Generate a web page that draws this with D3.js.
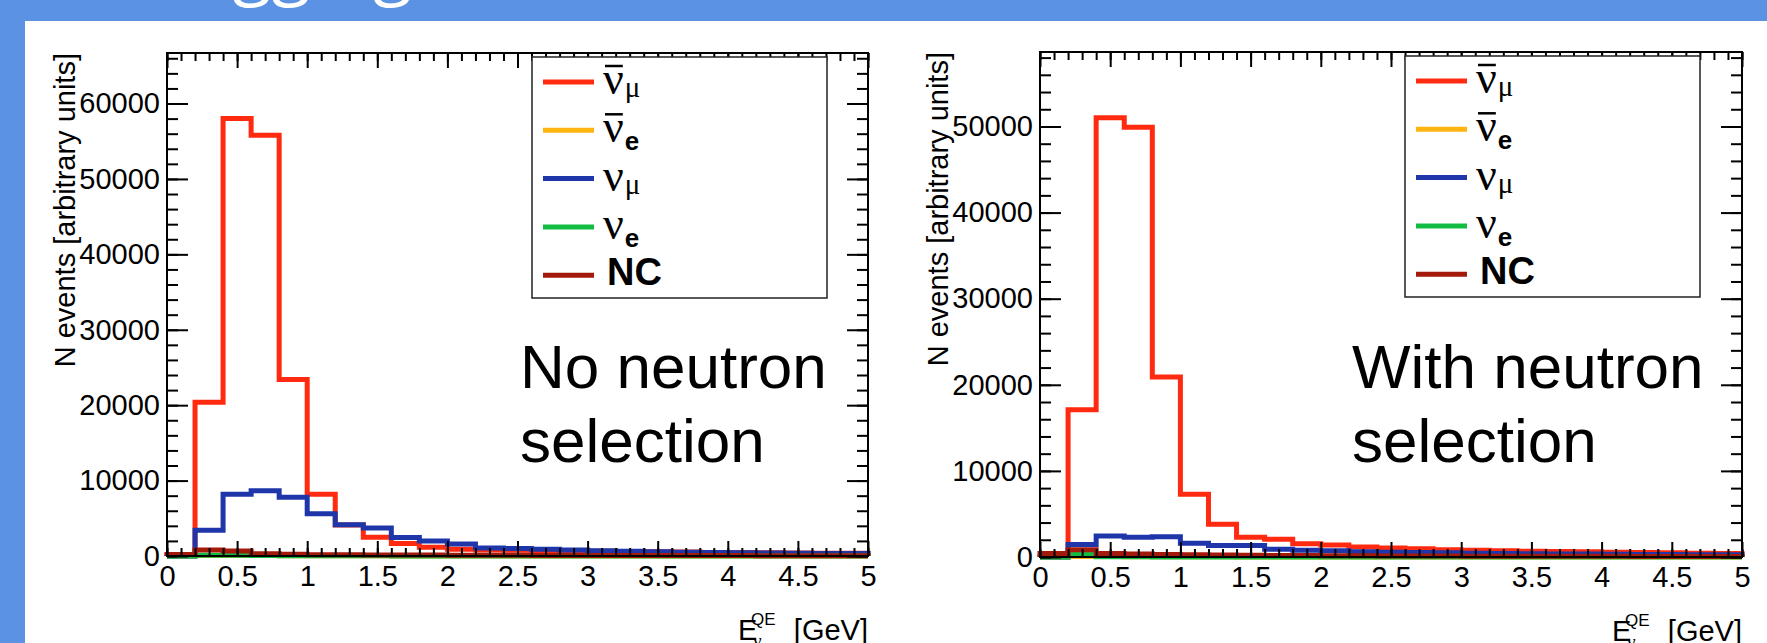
<!DOCTYPE html>
<html>
<head>
<meta charset="utf-8">
<script src="https://cdn.jsdelivr.net/npm/d3@7"></script>
<style>
  body { margin: 0; background: #fff; }
  svg text { font-family: "Liberation Sans", Arial, sans-serif; }
</style>
</head>
<body>
<svg id="chart" width="1767" height="643"></svg>
<script>
"use strict";

// bin edges in GeV
var binEdges = [0, 0.2, 0.4, 0.6, 0.8, 1.0, 1.2, 1.4, 1.6, 1.8, 2.0, 2.2, 2.4,
  2.6, 2.8, 3.0, 3.2, 3.4, 3.6, 3.8, 4.0, 4.2, 4.4, 4.6, 4.8, 5.0];

// no neutron selection
var numubarNoSel = [100, 20400, 58000, 55800, 23400, 8200, 4100, 2500, 1650, 1150, 900, 800,
  750, 700, 650, 620, 600, 580, 520, 480, 450, 420, 400, 380, 360];
var nuebarNoSel = [0, 60, 70, 50, 40, 30, 25, 20, 15, 10, 10, 10, 5, 5, 5, 5, 5, 5, 5, 5, 5, 5, 5, 5, 5];
var numuNoSel = [0, 3400, 8200, 8650, 7800, 5600, 4150, 3700, 2450, 2000, 1600, 1050,
  1000, 880, 800, 700, 620, 560, 500, 450, 420, 390, 360, 340, 320];
var nueNoSel = [0, 100, 90, 60, 40, 30, 20, 20, 10, 10, 10, 5, 5, 5, 5, 5, 5, 5, 5, 5, 5, 5, 5, 5, 5];
var ncNoSel = [200, 800, 650, 300, 220, 180, 160, 140, 130, 120, 110, 100, 90, 80, 75, 70,
  65, 60, 55, 50, 50, 45, 40, 40, 35];

// with neutron selection
var numubarSel = [50, 17100, 51000, 49900, 20900, 7300, 3800, 2300, 2050, 1550, 1400, 1150,
  1050, 950, 850, 780, 720, 680, 640, 600, 560, 520, 480, 450, 420];
var nuebarSel = [0, 50, 60, 40, 30, 20, 15, 10, 10, 5, 5, 5, 5, 5, 5, 5, 5, 5, 5, 5, 5, 5, 5, 5, 5];
var numuSel = [0, 1450, 2450, 2300, 2350, 1600, 1350, 1350, 900, 780, 740, 600, 560, 520,
  480, 450, 420, 390, 360, 340, 320, 300, 280, 260, 250];
var nueSel = [0, 300, 30, 20, 10, 5, 5, 5, 5, 5, 5, 5, 5, 5, 5, 5, 5, 5, 5, 5, 5, 5, 5, 5, 5];
var ncSel = [400, 850, 400, 350, 300, 260, 230, 200, 180, 160, 150, 140, 130, 120, 110, 100,
  100, 90, 90, 80, 80, 70, 70, 60, 60];

var xTickValues = [0, 0.5, 1, 1.5, 2, 2.5, 3, 3.5, 4, 4.5, 5];
var xTickLabels = ['0', '0.5', '1', '1.5', '2', '2.5', '3', '3.5', '4', '4.5', '5'];
var yTicksNoSel = [0, 10000, 20000, 30000, 40000, 50000, 60000];
var yTicksSel = [0, 10000, 20000, 30000, 40000, 50000];

var colors = {
  numubar: '#ff2a10',
  nuebar: '#ffb412',
  numu: '#1f36aa',
  nue: '#12bb42',
  nc: '#a3190a'
};

var svg = d3.select('#chart');

// slide background
svg.append('rect').attr('width', 1767).attr('height', 643).attr('fill', '#5b92e3');
svg.append('rect').attr('x', 25).attr('y', 21).attr('width', 1742).attr('height', 622)
  .attr('fill', '#fff');
svg.append('text')
  .attr('x', 412).attr('y', -9)
  .attr('text-anchor', 'end')
  .style('font-family', '"Open Sans", sans-serif')
  .style('font-size', '72px')
  .attr('fill', '#fff')
  .text('Neutron tagging');

function drawLegendLabel(g, x, y, name) {
  if (name === 'NC') {
    g.append('text').attr('x', x + 4).attr('y', y + 10)
      .style('font-size', '38px').style('font-weight', 'bold').text('NC');
    return;
  }
  var bar = name.indexOf('bar') >= 0;
  var sub = name.indexOf('mu') >= 0 ? 'mu' : 'e';
  var nu = g.append('text').attr('x', x).attr('y', y + 12)
    .style('font-family', '"Liberation Serif", serif')
    .style('font-size', '46px').text('\u03bd');
  var w = nu.node().getComputedTextLength();
  if (bar) {
    g.append('line')
      .attr('x1', x + 2).attr('x2', x + w - 1)
      .attr('y1', y - 16).attr('y2', y - 16)
      .attr('stroke', '#000').attr('stroke-width', 2.5);
  }
  if (sub === 'mu') {
    g.append('text').attr('x', x + w + 1).attr('y', y + 15)
      .style('font-family', '"Liberation Serif", serif')
      .style('font-size', '29px').text('\u03bc');
  } else {
    g.append('text').attr('x', x + w + 1).attr('y', y + 20)
      .style('font-size', '26px').style('font-weight', 'bold').text('e');
  }
}

function drawPanel(cfg) {
  var w = cfg.width, h = cfg.height;
  var plot = svg.append('g')
    .attr('transform', 'translate(' + cfg.left + ',' + cfg.top + ')');

  var all = cfg.series.map(function (s) { return d3.max(s.values); });
  var yMax = d3.max(all) * 1.15;

  var x = d3.scaleLinear().domain([0, 5]).range([0, w]);
  var y = d3.scaleLinear().domain([0, yMax]).range([h, 0]);

  var line = d3.line()
    .x(function (d) { return x(d[0]); })
    .y(function (d) { return y(d[1]); });

  cfg.series.forEach(function (s) {
    var pts = [[binEdges[0], 0]];
    s.values.forEach(function (v, i) {
      pts.push([binEdges[i], v]);
      pts.push([binEdges[i + 1], v]);
    });
    pts.push([binEdges[binEdges.length - 1], 0]);
    plot.append('path')
      .datum(pts)
      .attr('d', line)
      .attr('fill', 'none')
      .attr('stroke', colors[s.key])
      .attr('stroke-width', 5)
      .attr('stroke-linejoin', 'miter');
  });

  var xMinor = d3.range(0, 5.001, 0.1);
  var yMinor = d3.range(0, yMax, 2000);

  function styleAxis(sel) {
    sel.select('.domain').remove();
    sel.selectAll('line').attr('stroke', '#000').attr('stroke-width', 2);
    sel.selectAll('text').attr('fill', '#000')
      .style('font-size', '29px');
    sel.attr('font-family', null).attr('font-size', null);
  }

  // bottom
  plot.append('g').attr('transform', 'translate(0,' + h + ')')
    .call(d3.axisBottom(x).tickValues(xMinor).tickSize(-8).tickFormat(''))
    .call(styleAxis);
  plot.append('g').attr('transform', 'translate(0,' + h + ')')
    .call(d3.axisBottom(x).tickValues(xTickValues).tickSize(-15).tickPadding(9)
      .tickFormat(function (d, i) { return xTickLabels[i]; }))
    .call(styleAxis);
  // top
  plot.append('g')
    .call(d3.axisTop(x).tickValues(xMinor).tickSize(-8).tickFormat(''))
    .call(styleAxis);
  plot.append('g')
    .call(d3.axisTop(x).tickValues(xTickValues).tickSize(-15).tickFormat(''))
    .call(styleAxis);
  // left
  plot.append('g')
    .call(d3.axisLeft(y).tickValues(yMinor).tickSize(-11).tickFormat(''))
    .call(styleAxis);
  plot.append('g')
    .call(d3.axisLeft(y).tickValues(cfg.yTicks).tickSize(-21).tickPadding(7)
      .tickFormat(d3.format('d')))
    .call(styleAxis);
  // right
  plot.append('g').attr('transform', 'translate(' + w + ',0)')
    .call(d3.axisRight(y).tickValues(yMinor).tickSize(-11).tickFormat(''))
    .call(styleAxis);
  plot.append('g').attr('transform', 'translate(' + w + ',0)')
    .call(d3.axisRight(y).tickValues(cfg.yTicks).tickSize(-21).tickFormat(''))
    .call(styleAxis);

  plot.append('rect')
    .attr('width', w).attr('height', h)
    .attr('fill', 'none').attr('stroke', '#000').attr('stroke-width', 2);

  // axis titles
  plot.append('text')
    .attr('transform', 'translate(-92,0) rotate(-90)')
    .attr('text-anchor', 'end')
    .style('font-size', '29px')
    .text('N events [arbitrary units]');

  var xt = plot.append('g').attr('transform', 'translate(' + w + ',' + (h + 84) + ')');
  xt.append('text').attr('text-anchor', 'end').style('font-size', '29px').text('[GeV]');
  xt.append('text').attr('x', -130).style('font-size', '29px').text('E');
  xt.append('text').attr('x', -117).attr('y', -15).style('font-size', '17px').text('QE');
  xt.append('text').attr('x', -115).attr('y', 7)
    .style('font-family', '"Liberation Serif", serif').style('font-size', '19px').text('\u03bd');

  // legend
  var lg = plot.append('g').attr('transform', 'translate(365,4)');
  lg.append('rect').attr('width', 295).attr('height', 241)
    .attr('fill', '#fff').attr('stroke', '#222').attr('stroke-width', 1.5);
  cfg.series.forEach(function (s, i) {
    var ly = 25 + i * 48.3;
    lg.append('line')
      .attr('x1', 11).attr('x2', 62).attr('y1', ly).attr('y2', ly)
      .attr('stroke', colors[s.key]).attr('stroke-width', 5);
    drawLegendLabel(lg, 71, ly, s.label);
  });

  // annotation
  var note = plot.append('text').style('font-size', '62px');
  cfg.note.forEach(function (t, i) {
    note.append('tspan').attr('x', cfg.noteX).attr('y', 335 - cfg.top + 53 + i * 74).text(t);
  });
}

var legendNames = ['numubar', 'nuebar', 'numu', 'nue', 'NC'];

drawPanel({
  left: 167, top: 53, width: 701, height: 503,
  yTicks: yTicksNoSel,
  noteX: 353,
  note: ['No neutron', 'selection'],
  series: [
    { key: 'numubar', label: legendNames[0], values: numubarNoSel },
    { key: 'nuebar', label: legendNames[1], values: nuebarNoSel },
    { key: 'numu', label: legendNames[2], values: numuNoSel },
    { key: 'nue', label: legendNames[3], values: nueNoSel },
    { key: 'nc', label: legendNames[4], values: ncNoSel }
  ]
});

drawPanel({
  left: 1040, top: 52, width: 702, height: 505,
  yTicks: yTicksSel,
  noteX: 312,
  note: ['With neutron', 'selection'],
  series: [
    { key: 'numubar', label: legendNames[0], values: numubarSel },
    { key: 'nuebar', label: legendNames[1], values: nuebarSel },
    { key: 'numu', label: legendNames[2], values: numuSel },
    { key: 'nue', label: legendNames[3], values: nueSel },
    { key: 'nc', label: legendNames[4], values: ncSel }
  ]
});
</script>
</body>
</html>
